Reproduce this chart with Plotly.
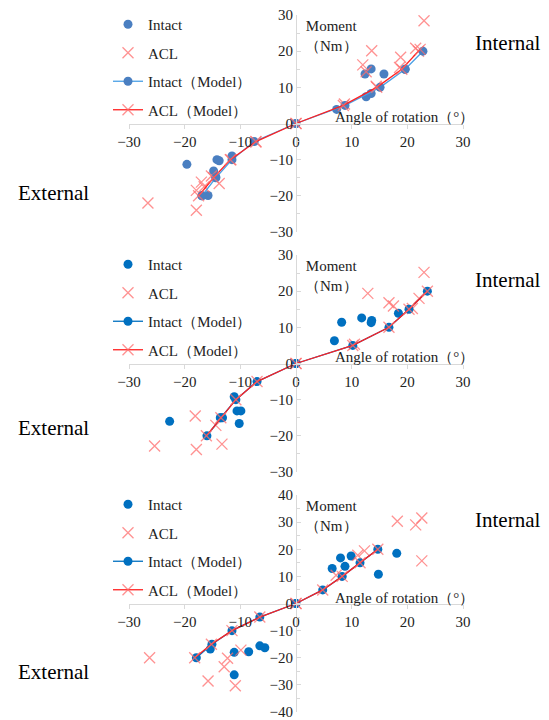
import plotly.graph_objects as go

# ---------------- data ----------------
# Panel 1
p1_intact_x = [12.4, 13.5, 15.8, 7.3, 12.6, 13.5, 19.6, -19.6, -14.2, -13.8, -14.8, -14.4, -11.5, -16.9, -15.8, 0.0]
p1_intact_y = [13.7, 15.1, 13.7, 3.9, 7.4, 8.3, 15.0, -11.3, -10.0, -10.3, -13.1, -14.8, -9.0, -20.0, -19.9, 0.0]
p1_acl_x = [23.0, 13.6, 12.0, 12.6, 18.8, 18.6, 21.5, 22.0, 14.4, 8.7, 0.0, -7.2, -11.7, -26.6, -17.9, -17.9, -17.0, -13.8, -15.2, -16.5]
p1_acl_y = [28.4, 20.1, 16.2, 14.3, 18.3, 15.5, 20.8, 20.0, 10.3, 5.4, 0.0, -5.1, -10.0, -22.0, -24.0, -18.5, -16.2, -16.6, -14.5, -17.5]
p1_intact_model_x = [-16.9, -14.4, -11.5, -7.5, 0.0, 8.8, 15.1, 19.6, 22.8]
p1_intact_model_y = [-20, -15, -10, -5, 0, 5, 10, 15, 20]
p1_acl_model_x = [-17.5, -14.8, -11.8, -7.2, 0.0, 8.5, 14.5, 19.0, 22.3]
p1_acl_model_y = [-20, -15, -10, -5, 0, 5, 10, 15, 20.5]

# Panel 2
p2_intact_x = [-22.7, -13.6, -13.2, -11.1, -10.6, -9.9, -10.2, 0.0, 6.9, 8.2, 11.8, 13.5, 13.6, 18.4]
p2_intact_y = [-16.0, -15.0, -15.0, -9.2, -13.1, -13.1, -16.6, 0.0, 6.3, 11.4, 12.6, 11.3, 11.9, 13.9]
p2_acl_x = [-25.4, -18.1, -17.9, -13.3, -14.4, 0.0, 12.9, 16.7, 17.5, 23.0, 20.9, 22.1, 10.5]
p2_acl_y = [-22.8, -14.5, -23.8, -22.3, -17.1, 0.0, 19.4, 16.8, 15.9, 25.2, 15.2, 18.0, 5.3]
p2_intact_model_x = [-16.0, -13.5, -10.8, -7.0, 0.0, 10.2, 16.7, 20.3, 23.6]
p2_intact_model_y = [-20, -15, -10, -5, 0, 5, 10, 15, 20]
p2_acl_model_x = [-16.1, -13.5, -10.8, -7.0, 0.0, 10.2, 16.7, 20.3, 23.6]
p2_acl_model_y = [-20, -15, -10, -5, 0, 5, 10, 15, 20]

# Panel 3
p3_intact_x = [-15.4, -11.1, -11.1, -8.5, -6.5, -5.6, 0.0, 6.5, 8.0, 8.8, 9.9, 14.8, 18.1]
p3_intact_y = [-16.8, -18.0, -26.3, -17.8, -15.6, -16.3, 0.0, 12.9, 16.8, 13.7, 17.5, 10.8, 18.5]
p3_acl_x = [-26.3, -15.8, -12.9, -12.3, -10.9, -9.9, 0.0, 7.2, 11.1, 12.3, 18.2, 21.5, 22.6, 22.6]
p3_acl_y = [-20.0, -28.6, -23.3, -20.2, -30.3, -17.2, 0.0, 10.4, 17.8, 19.4, 30.3, 29.0, 31.5, 15.7]
p3_intact_model_x = [-17.9, -15.1, -11.5, -6.5, 0.0, 4.8, 8.3, 11.5, 14.7]
p3_intact_model_y = [-20, -15, -10, -5, 0, 5, 10, 15, 20]
p3_acl_model_x = [-18.2, -15.2, -11.5, -6.5, 0.0, 4.8, 8.3, 11.5, 14.7]
p3_acl_model_y = [-20, -15, -10, -5, 0, 5, 10, 15, 20]

x_ticks = [-30, -20, -10, 0, 10, 20, 30]
y_range_12 = [-30, 30]
y_range_3 = [-40, 40]

legend_names = ["Intact", "ACL", "Intact（Model）", "ACL（Model）"]
side_labels = ["Internal", "External"]
moment_label = "Moment<br>（Nm）"
angle_label = "Angle of rotation（°）"

panels = [
    dict(ix=p1_intact_x, iy=p1_intact_y, ax=p1_acl_x, ay=p1_acl_y,
         imx=p1_intact_model_x, imy=p1_intact_model_y, amx=p1_acl_model_x, amy=p1_acl_model_y,
         yr=y_range_12, blue="#4a7fc1", mline="#4aa0e6"),
    dict(ix=p2_intact_x, iy=p2_intact_y, ax=p2_acl_x, ay=p2_acl_y,
         imx=p2_intact_model_x, imy=p2_intact_model_y, amx=p2_acl_model_x, amy=p2_acl_model_y,
         yr=y_range_12, blue="#0070c0", mline="#0070c0"),
    dict(ix=p3_intact_x, iy=p3_intact_y, ax=p3_acl_x, ay=p3_acl_y,
         imx=p3_intact_model_x, imy=p3_intact_model_y, amx=p3_acl_model_x, amy=p3_acl_model_y,
         yr=y_range_3, blue="#0070c0", mline="#0070c0"),
]

W, H = 549, 720
x_dom = [129 / W, 463 / W]
y_doms = [[1 - 232 / H, 1 - 15 / H], [1 - 472 / H, 1 - 255 / H], [1 - 712 / H, 1 - 495 / H]]
panel_tops = [15, 255, 495]
legend_tops = [8, 248, 488]
angle_y = [117, 357, 598]
internal_y = [43, 280, 520]
external_y = [193, 428, 672]

FONT = "Liberation Serif, Times New Roman, serif"
acl_color = "rgba(255,110,110,0.75)"
red = "#ff2020"

fig = go.Figure()
layout = dict(width=W, height=H, autosize=False, margin=dict(l=0, r=0, t=0, b=0, pad=0, autoexpand=False),
              paper_bgcolor="white", plot_bgcolor="white",
              font=dict(family=FONT, size=15, color="#222222"), annotations=[])


def note(text, xpx, ypx, size, color="#222222"):
    return dict(text=text, x=xpx / W, y=1 - ypx / H, xref="paper", yref="paper",
                xanchor="center", yanchor="middle", showarrow=False, align="center",
                font=dict(size=size, family=FONT, color=color))


for i, p in enumerate(panels):
    n = "" if i == 0 else str(i + 1)
    xa, ya = "x" + n, "y" + n
    lg = "legend" + n
    fig.add_trace(go.Scatter(x=p["ix"], y=p["iy"], mode="markers", name=legend_names[0],
                             marker=dict(color=p["blue"], size=9, symbol="circle"),
                             xaxis=xa, yaxis=ya, legend=lg, legendgroup="a" + n))
    fig.add_trace(go.Scatter(x=p["ax"], y=p["ay"], mode="markers", name=legend_names[1],
                             marker=dict(color=acl_color, size=11, symbol="x-thin",
                                         line=dict(color=acl_color, width=1.3)),
                             xaxis=xa, yaxis=ya, legend=lg, legendgroup="b" + n))
    fig.add_trace(go.Scatter(x=p["imx"], y=p["imy"], mode="lines+markers", name=legend_names[2],
                             line=dict(color=p["mline"], width=1.3),
                             marker=dict(color=p["blue"], size=9, symbol="circle"),
                             xaxis=xa, yaxis=ya, legend=lg, legendgroup="c" + n))
    fig.add_trace(go.Scatter(x=p["amx"], y=p["amy"], mode="lines+markers", name=legend_names[3],
                             line=dict(color=red, width=1.3),
                             marker=dict(color=acl_color, size=11, symbol="x-thin",
                                         line=dict(color=acl_color, width=1.3)),
                             xaxis=xa, yaxis=ya, legend=lg, legendgroup="d" + n))

    ymid = (y_doms[i][0] + y_doms[i][1]) / 2
    xmid = (x_dom[0] + x_dom[1]) / 2
    layout["xaxis" + n] = dict(domain=x_dom, range=[-30, 30], anchor="free", position=ymid,
                               tickvals=x_ticks, showline=True, linecolor="#d9d9d9", linewidth=1,
                               ticks="outside", ticklen=4, tickcolor="#d9d9d9",
                               showgrid=False, zeroline=False, tickfont=dict(size=15),
                               ticklabeloverflow="allow", automargin=False, fixedrange=True)
    layout["yaxis" + n] = dict(domain=y_doms[i], range=p["yr"], anchor="free", position=xmid,
                               dtick=10, showline=True, linecolor="#d9d9d9", linewidth=1,
                               ticks="inside", ticklen=4, tickcolor="#d9d9d9",
                               minor=dict(dtick=5, ticks="inside", ticklen=3, tickcolor="#d9d9d9"),
                               showgrid=False, zeroline=False, tickfont=dict(size=15),
                               ticklabeloverflow="allow", automargin=False, fixedrange=True)
    layout[lg] = dict(x=108 / W, y=1 - legend_tops[i] / H, xanchor="left", yanchor="top",
                      bgcolor="rgba(0,0,0,0)", font=dict(size=15, family=FONT, color="#222222"),
                      traceorder="grouped", tracegroupgap=6, itemwidth=30)

    layout["annotations"] += [
        note(moment_label, 331, panel_tops[i] + 21, 15),
        note(angle_label, 404, angle_y[i], 15),
        note(side_labels[0], 507, internal_y[i], 21, "black"),
        note(side_labels[1], 53, external_y[i], 21, "black"),
    ]

fig.update_layout(**layout)
fig.write_html("out.html", config={"displayModeBar": False},
               post_script="document.body.style.margin='0';")
